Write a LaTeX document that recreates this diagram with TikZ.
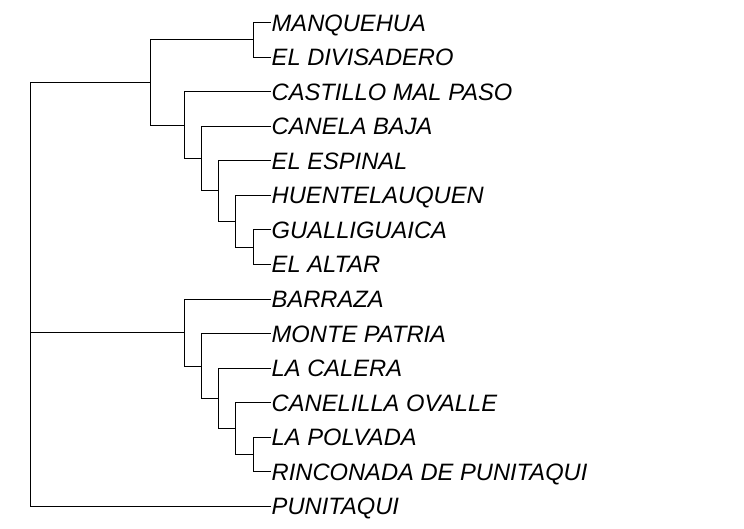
\documentclass[tikz,border=0pt]{standalone}
\usepackage{fontspec}
\setmainfont{Liberation Sans}
\begin{document}
\begin{tikzpicture}[x=1bp,y=-1bp,
  branch/.style={draw=black,line width=1bp,line cap=rect},
  leaflabel/.style={anchor=base west,inner sep=0pt,xshift=1.5bp,
    font=\fontsize{23.8}{28}\selectfont\itshape}]
\useasboundingbox (0,0) rectangle (744,529);
% leaf tips and their labels
\def\tipx{270}
\foreach \n/\t [count=\i from 0] in {
  l1/MANQUEHUA, l2/EL DIVISADERO, l3/CASTILLO MAL PASO, l4/CANELA BAJA,
  l5/EL ESPINAL, l6/HUENTELAUQUEN, l7/GUALLIGUAICA, l8/EL ALTAR,
  l9/BARRAZA, l10/MONTE PATRIA, l11/LA CALERA, l12/CANELILLA OVALLE,
  l13/LA POLVADA, l14/RINCONADA DE PUNITAQUI, l15/PUNITAQUI}{
  \coordinate (\n) at (\tipx,{22.7+34.54*\i});
  \node[leaflabel] (t\n) at ([yshift=-8.5bp]\n) {\t};
}
% merge points of the upper group
\coordinate (a1) at (253.3,39.97);
\coordinate (a5) at (253.3,247.2);
\coordinate (a4) at (235.3,221.3);
\coordinate (a3) at (218.3,191.0);
\coordinate (a2) at (201.3,158.6);
\coordinate (a6) at (184.3,125.1);
\coordinate (top) at (150.7,82.5);
% merge points of the lower group
\coordinate (b5) at (253.3,454.6);
\coordinate (b4) at (235.3,428.7);
\coordinate (b3) at (218.3,398.5);
\coordinate (b2) at (201.3,366.0);
\coordinate (bot) at (184.3,332.6);
% root
\coordinate (root) at (30.3,332.6);

\path[branch]
  (a1) |- (l1)  (a1) |- (l2)
  (a5) |- (l7)  (a5) |- (l8)
  (a4) |- (l6)  (a4) |- (a5)
  (a3) |- (l5)  (a3) |- (a4)
  (a2) |- (l4)  (a2) |- (a3)
  (a6) |- (l3)  (a6) |- (a2)
  (top) |- (a1) (top) |- (a6)
  (b5) |- (l13) (b5) |- (l14)
  (b4) |- (l12) (b4) |- (b5)
  (b3) |- (l11) (b3) |- (b4)
  (b2) |- (l10) (b2) |- (b3)
  (bot) |- (l9) (bot) |- (b2)
  (root) |- (top) (root) -- (bot) (root) |- (l15);
\end{tikzpicture}
\end{document}
